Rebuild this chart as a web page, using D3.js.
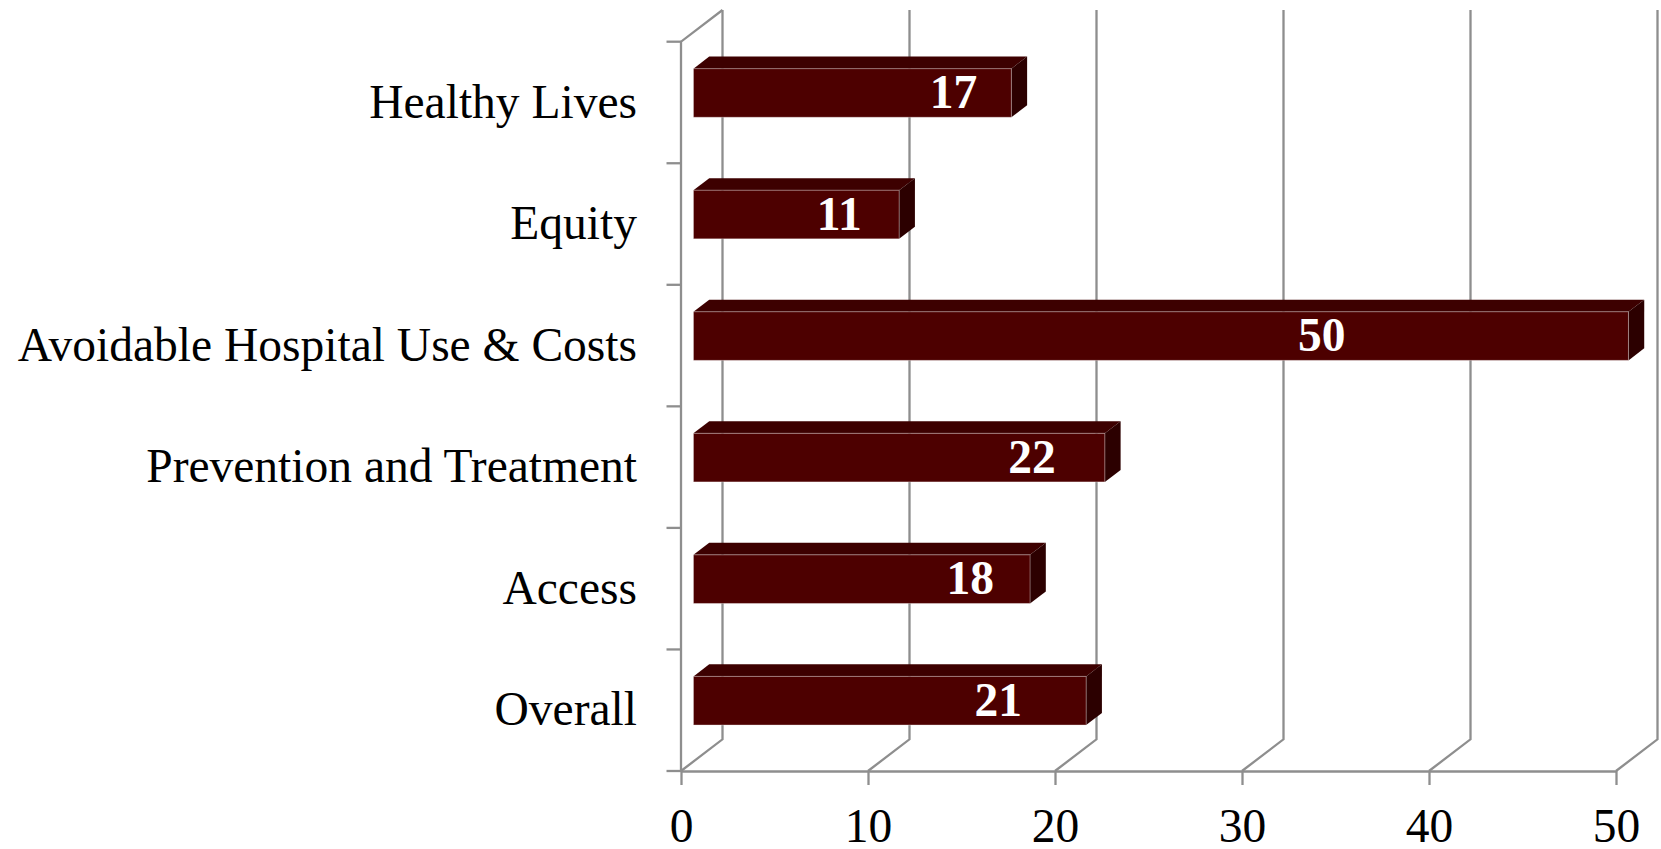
<!DOCTYPE html>
<html>
<head>
<meta charset="utf-8">
<script src="https://cdn.jsdelivr.net/npm/d3@7"></script>
<style>
    body { margin: 0; background: #fff; }
    svg { display: block; font-family: "Liberation Serif", "Times New Roman", serif; }
</style>
</head>
<body>
<svg class="bars3d" width="1661" height="849"></svg>
<script>
// top to bottom, as in the picture
const categories = ['Healthy Lives', 'Equity', 'Avoidable Hospital Use & Costs', 'Prevention and Treatment', 'Access', 'Overall'];
const values = [17, 11, 50, 22, 18, 21];
// where each value label sits along the bar, in axis units
const labelAt = [13.9, 7.8, 33.6, 18.1, 14.8, 16.3];
const xTicks = [0, 10, 20, 30, 40, 50];

const svg = d3.select('svg.bars3d');

const margin = { top: 41.7, left: 681, right: 45, bottom: 78 };
const width = 1661;
const height = 849;

// depth of the 3d box (back wall offset)
const DX = 41.5;
const DY = -31.7;
const z0 = 0.3;   // bar front
const z1 = 0.68;  // bar back

const gridColor = '#8e8e8e';
const gridWidth = 2.3;

const xScale = d3.scaleLinear()
    .domain([0, 50])
    .range([margin.left, 1616]);

const yScale = d3.scaleBand()
    .domain(categories)
    .range([margin.top, height - margin.bottom])
    .paddingInner(0.6)
    .paddingOuter(0.3);

const step = yScale.step();
const y0 = yScale.range()[0];
const y1 = yScale.range()[1];

const grid = svg.append('g');

// back wall gridlines + floor diagonals
xTicks.forEach(v => {
    const x = xScale(v);
    grid.append('polyline')
        .attr('points', `${x},${y1} ${x + DX},${y1 + DY} ${x + DX},${y0 + DY}`)
        .attr('fill', 'none')
        .attr('stroke', gridColor)
        .attr('stroke-width', gridWidth);
});

// left wall: front edge + top diagonal
grid.append('polyline')
    .attr('points', `${xScale(0)},${y1} ${xScale(0)},${y0} ${xScale(0) + DX},${y0 + DY}`)
    .attr('fill', 'none')
    .attr('stroke', gridColor)
    .attr('stroke-width', gridWidth);

// category ticks at band boundaries
grid.selectAll('line.ytick')
    .data(d3.range(categories.length + 1))
    .enter().append('line')
    .attr('class', 'ytick')
    .attr('x1', xScale(0) - 14.5)
    .attr('x2', xScale(0))
    .attr('y1', i => y0 + i * step)
    .attr('y2', i => y0 + i * step)
    .attr('stroke', gridColor)
    .attr('stroke-width', gridWidth);

// x axis
const xAxis = svg.append('g')
    .attr('transform', `translate(0, ${y1})`)
    .call(d3.axisBottom(xScale).tickValues(xTicks).tickSize(14).tickSizeOuter(0).tickPadding(23));

xAxis.select('.domain').attr('stroke', gridColor).attr('stroke-width', gridWidth);
xAxis.selectAll('.tick line').attr('stroke', gridColor).attr('stroke-width', gridWidth);
xAxis.selectAll('.tick text')
    .attr('fill', '#000')
    .style('font-size', '47.5px')
    .style('font-family', '"Liberation Serif", "Times New Roman", serif');

// category labels
const yAxis = svg.append('g')
    .attr('transform', `translate(${xScale(0)}, 0)`)
    .call(d3.axisLeft(yScale).tickSize(0).tickPadding(44));

yAxis.select('.domain').remove();
yAxis.selectAll('.tick text')
    .attr('fill', '#000')
    .style('font-size', '47.5px')
    .style('font-family', '"Liberation Serif", "Times New Roman", serif');

// bars
const data = categories.map((c, i) => ({ cat: c, value: values[i], labelAt: labelAt[i] }));
const bw = yScale.bandwidth();
const dzx = (z1 - z0) * DX;
const dzy = (z1 - z0) * DY;

const bars = svg.append('g').selectAll('g.bar')
    .data(data)
    .enter().append('g')
    .attr('class', 'bar');

const fx0 = d => xScale(0) + z0 * DX;
const fx1 = d => xScale(d.value) + z0 * DX;
const fyT = d => yScale(d.cat) + z0 * DY;

// top face
bars.append('polygon')
    .attr('points', d => [
        [fx0(d), fyT(d)], [fx1(d), fyT(d)],
        [fx1(d) + dzx, fyT(d) + dzy], [fx0(d) + dzx, fyT(d) + dzy]
    ].join(' '))
    .attr('fill', '#3d0000');

// right side face
bars.append('polygon')
    .attr('points', d => [
        [fx1(d), fyT(d)], [fx1(d) + dzx, fyT(d) + dzy],
        [fx1(d) + dzx, fyT(d) + dzy + bw], [fx1(d), fyT(d) + bw]
    ].join(' '))
    .attr('fill', '#2c0000');

// front face
bars.append('rect')
    .attr('x', fx0)
    .attr('y', fyT)
    .attr('width', d => fx1(d) - fx0(d))
    .attr('height', bw)
    .attr('fill', '#4d0000')
    .attr('stroke', 'rgba(255,255,255,0.35)')
    .attr('stroke-width', 1);

// value labels
bars.append('text')
    .attr('x', d => xScale(d.labelAt) + z0 * DX)
    .attr('y', d => fyT(d) + bw / 2)
    .attr('dy', '0.32em')
    .attr('text-anchor', 'middle')
    .attr('fill', '#fff')
    .style('font-size', '47.5px')
    .style('font-weight', 'bold')
    .text(d => d.value);
</script>
</body>
</html>
